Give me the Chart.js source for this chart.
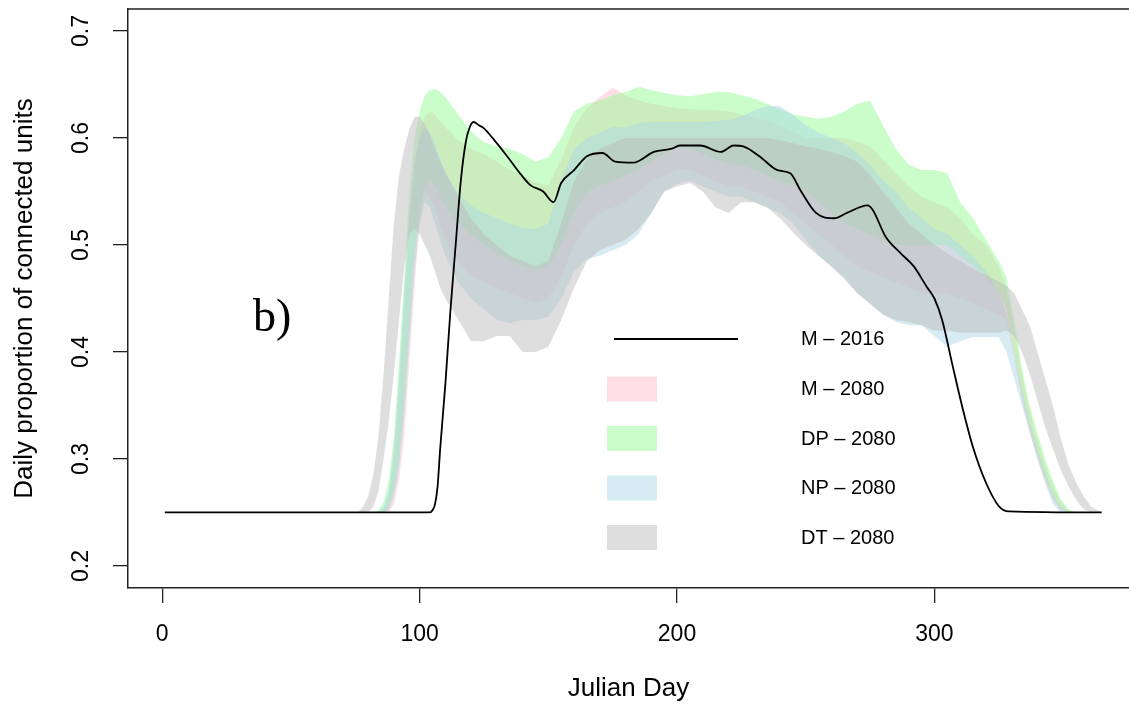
<!DOCTYPE html>
<html>
<head>
<meta charset="utf-8">
<script src="https://cdn.jsdelivr.net/npm/chart.js@4.4.1/dist/chart.umd.min.js"></script>
<style>
  html, body { margin: 0; padding: 0; background: #fff; }
  #wrap { width: 1129px; height: 704px; }
</style>
</head>
<body>
<div id="wrap"><canvas id="chart" width="1129" height="704"></canvas></div>
<script>
// Julian days shared by all the 2080 bands
const days = [1,
  76, 78, 80, 82, 84, 86, 88, 90, 92, 94, 96, 98, 100, 102, 104,
  106, 108,
  110, 115, 120, 125, 130, 135, 140, 145, 150, 155, 160, 165, 170, 175, 180, 185, 190, 195, 200, 205,
  210, 215, 220, 225, 230, 235, 240, 245, 250, 255, 260, 265, 270, 275, 280, 285, 290, 295, 300, 305,
  310, 315, 320, 325,
  328, 331, 334, 337, 340, 343, 346, 349, 352, 355, 358, 361,
  365];

// M - 2080 (pink)
const mUp = [0.25,
  0.25, 0.25, 0.25, 0.25, 0.25, 0.252, 0.265, 0.30, 0.36, 0.44, 0.52, 0.575, 0.605, 0.62, 0.625,
  0.622, 0.615,
  0.61, 0.598, 0.59, 0.585, 0.578, 0.57, 0.565, 0.558, 0.556, 0.58,
  0.61, 0.628, 0.638, 0.647, 0.64, 0.635, 0.632, 0.63, 0.628, 0.627,
  0.626, 0.626, 0.625, 0.622, 0.62, 0.616, 0.612, 0.606, 0.60, 0.60,
  0.60, 0.60, 0.597, 0.592, 0.58, 0.567, 0.555, 0.545, 0.54, 0.535,
  0.525, 0.51, 0.50, 0.48,
  0.46, 0.42, 0.38, 0.345, 0.318, 0.295, 0.275, 0.26, 0.252, 0.25, 0.25, 0.25,
  0.25];
const mLo = [0.25,
  0.25, 0.25, 0.25, 0.25, 0.25, 0.25, 0.25, 0.258, 0.28, 0.32, 0.39, 0.46, 0.52, 0.55, 0.545,
  0.535, 0.52,
  0.505, 0.485, 0.472, 0.465, 0.46, 0.455, 0.45, 0.446, 0.45, 0.47,
  0.50, 0.52, 0.53, 0.535, 0.54, 0.55, 0.56, 0.565, 0.57, 0.57,
  0.565, 0.56, 0.555, 0.555, 0.55, 0.545, 0.54, 0.53, 0.52, 0.51,
  0.50, 0.49, 0.48, 0.475, 0.47, 0.465, 0.46, 0.455, 0.455, 0.455,
  0.45, 0.445, 0.44, 0.435,
  0.43, 0.395, 0.355, 0.325, 0.30, 0.278, 0.262, 0.252, 0.25, 0.25, 0.25, 0.25,
  0.25];

// DP - 2080 (green)
const dpUp = [0.25,
  0.25, 0.25, 0.25, 0.25, 0.252, 0.26, 0.28, 0.32, 0.39, 0.47, 0.55, 0.60, 0.625, 0.64, 0.645,
  0.646, 0.643,
  0.638, 0.622, 0.606, 0.596, 0.592, 0.59, 0.585, 0.578, 0.582, 0.60,
  0.625, 0.632, 0.635, 0.64, 0.643, 0.648, 0.645, 0.642, 0.64, 0.639,
  0.641, 0.643, 0.643, 0.64, 0.637, 0.632, 0.627, 0.622, 0.62, 0.618,
  0.62, 0.625, 0.632, 0.635, 0.612, 0.59, 0.575, 0.57, 0.57, 0.567,
  0.54, 0.525, 0.505, 0.485,
  0.47, 0.43, 0.385, 0.35, 0.325, 0.30, 0.28, 0.263, 0.253, 0.25, 0.25, 0.25,
  0.25];
const dpLo = [0.25,
  0.25, 0.25, 0.25, 0.25, 0.25, 0.25, 0.255, 0.27, 0.30, 0.35, 0.42, 0.49, 0.53, 0.555, 0.56,
  0.555, 0.545,
  0.535, 0.52, 0.51, 0.50, 0.492, 0.486, 0.48, 0.476, 0.48, 0.50,
  0.53, 0.55, 0.555, 0.56, 0.565, 0.57, 0.578, 0.585, 0.59, 0.59,
  0.585, 0.58, 0.575, 0.575, 0.57, 0.565, 0.56, 0.555, 0.55, 0.54,
  0.53, 0.52, 0.515, 0.51, 0.505, 0.50, 0.50, 0.50, 0.50, 0.50,
  0.49, 0.48, 0.47, 0.455,
  0.44, 0.40, 0.36, 0.33, 0.305, 0.283, 0.265, 0.254, 0.25, 0.25, 0.25, 0.25,
  0.25];

// NP - 2080 (blue)
const npUp = [0.25,
  0.25, 0.25, 0.25, 0.25, 0.25, 0.255, 0.27, 0.31, 0.375, 0.455, 0.53, 0.575, 0.60, 0.61, 0.605,
  0.595, 0.58,
  0.568, 0.548, 0.537, 0.53, 0.525, 0.52, 0.516, 0.515, 0.52, 0.56,
  0.59, 0.60, 0.605, 0.61, 0.61, 0.614, 0.615, 0.615, 0.615, 0.615,
  0.615, 0.616, 0.617, 0.62, 0.626, 0.63, 0.63, 0.622, 0.612, 0.605,
  0.60, 0.595, 0.586, 0.575, 0.56, 0.55, 0.535, 0.525, 0.515, 0.51,
  0.50, 0.49, 0.475, 0.455,
  0.435, 0.40, 0.365, 0.335, 0.31, 0.288, 0.268, 0.255, 0.25, 0.25, 0.25, 0.25,
  0.25];
const npLo = [0.25,
  0.25, 0.25, 0.25, 0.25, 0.25, 0.25, 0.252, 0.265, 0.29, 0.34, 0.41, 0.475, 0.52, 0.54, 0.535,
  0.52, 0.505,
  0.49, 0.465, 0.45, 0.44, 0.43, 0.427, 0.43, 0.43, 0.433, 0.45,
  0.475, 0.487, 0.49, 0.495, 0.50, 0.51, 0.53, 0.55, 0.557, 0.56,
  0.555, 0.55, 0.545, 0.545, 0.54, 0.535, 0.53, 0.52, 0.505, 0.49,
  0.48, 0.47, 0.455, 0.445, 0.435, 0.428, 0.425, 0.425, 0.415, 0.405,
  0.41, 0.414, 0.414, 0.414,
  0.40, 0.375, 0.35, 0.325, 0.30, 0.278, 0.258, 0.25, 0.25, 0.25, 0.25, 0.25,
  0.25];

// DT - 2080 (grey)
const dtUp = [0.25,
  0.25, 0.255, 0.265, 0.285, 0.32, 0.38, 0.45, 0.52, 0.565, 0.59, 0.608, 0.62, 0.62, 0.613, 0.603,
  0.59, 0.578,
  0.568, 0.545, 0.525, 0.51, 0.50, 0.49, 0.485, 0.48, 0.485, 0.52,
  0.56, 0.58, 0.59, 0.595, 0.60, 0.60, 0.60, 0.60, 0.60, 0.60,
  0.60, 0.60, 0.60, 0.60, 0.60, 0.60, 0.598, 0.595, 0.592, 0.59,
  0.587, 0.583, 0.578, 0.565, 0.55, 0.535, 0.52, 0.51, 0.50, 0.492,
  0.485, 0.478, 0.472, 0.466,
  0.462, 0.455, 0.44, 0.425, 0.40, 0.375, 0.35, 0.32, 0.295, 0.278, 0.265, 0.255,
  0.25];
const dtLo = [0.25,
  0.25, 0.25, 0.25, 0.255, 0.27, 0.30, 0.335, 0.38, 0.43, 0.48, 0.51, 0.515, 0.51, 0.50, 0.49,
  0.475, 0.46,
  0.45, 0.43, 0.41, 0.41, 0.415, 0.415, 0.40, 0.40, 0.405, 0.43,
  0.46, 0.485, 0.495, 0.50, 0.505, 0.515, 0.53, 0.55, 0.555, 0.558,
  0.55, 0.535, 0.53, 0.54, 0.54, 0.535, 0.525, 0.512, 0.50, 0.49,
  0.48, 0.468, 0.455, 0.445, 0.435, 0.43, 0.428, 0.425, 0.42, 0.42,
  0.418, 0.418, 0.418, 0.418,
  0.42, 0.415, 0.40, 0.38, 0.355, 0.33, 0.31, 0.29, 0.275, 0.262, 0.253, 0.25,
  0.25];

// M - 2016 (black line)
const lineDays = [1, 104, 105, 106, 107, 108, 110, 112, 114, 116, 118, 120,
  121, 123, 125, 129, 134, 139, 143, 148, 152, 155, 160, 165,
  171, 176, 183, 191, 198, 201, 209, 217, 222, 226, 232, 239,
  244, 248, 254, 261, 266, 274, 276, 281, 287, 292, 297, 300,
  303, 307, 311, 315, 320, 325, 329, 365];
const lineVals = [0.25, 0.25, 0.252, 0.258, 0.275, 0.31, 0.37, 0.44, 0.50, 0.56, 0.597, 0.613,
  0.615, 0.612, 0.609, 0.598, 0.583, 0.567, 0.556, 0.55, 0.54, 0.558, 0.57, 0.583,
  0.586, 0.578, 0.577, 0.587, 0.59, 0.593, 0.593, 0.587, 0.593, 0.592, 0.583, 0.57,
  0.567, 0.551, 0.53, 0.525, 0.53, 0.537, 0.533, 0.508, 0.492, 0.48, 0.461, 0.45,
  0.43, 0.388, 0.347, 0.311, 0.278, 0.256, 0.251, 0.25];

const xTicks = [0, 100, 200, 300];
const yTicks = [0.2, 0.3, 0.4, 0.5, 0.6, 0.7];
const seriesNames = ['M \u2013 2016', 'M \u2013 2080', 'DP \u2013 2080', 'NP \u2013 2080', 'DT \u2013 2080'];
const bandColors = ['rgba(255,192,203,0.5)', 'rgba(152,251,152,0.5)', 'rgba(173,216,230,0.5)', 'rgba(190,190,190,0.5)'];

const sans = '"Liberation Sans", Arial, Helvetica, sans-serif';

function pts(xs, ys) {
  return xs.map((d, i) => ({ x: d, y: ys[i] }));
}

function band(label, up, lo, color) {
  return [
    { label: label, data: pts(days, up), fill: '+1', backgroundColor: color,
      borderWidth: 0, pointRadius: 0, tension: 0 },
    { label: label + ' low', data: pts(days, lo), fill: false,
      borderWidth: 0, pointRadius: 0, tension: 0 }
  ];
}

// R style extras: top of the box, "b)" tag and the legend inside the plot
const extras = {
  id: 'extras',
  afterDraw(chart) {
    const ctx = chart.ctx;
    const a = chart.chartArea;
    ctx.save();
    ctx.strokeStyle = '#222';
    ctx.lineWidth = 1.5;
    ctx.beginPath();
    ctx.moveTo(a.left, a.top);
    ctx.lineTo(a.right, a.top);
    ctx.stroke();

    ctx.fillStyle = '#000';
    ctx.font = '46px "Liberation Serif", "DejaVu Serif", serif';
    ctx.textBaseline = 'alphabetic';
    ctx.textAlign = 'left';
    ctx.fillText('b)', 253, 331);

    // legend
    ctx.strokeStyle = '#000';
    ctx.lineWidth = 1.8;
    ctx.beginPath();
    ctx.moveTo(614, 339);
    ctx.lineTo(738, 339);
    ctx.stroke();
    const rowY = [339, 389, 438.5, 488, 537.5];
    bandColors.forEach((c, i) => {
      ctx.fillStyle = c;
      ctx.fillRect(607, rowY[i + 1] - 12.5, 50, 25);
    });
    ctx.fillStyle = '#000';
    ctx.font = '20px ' + sans;
    ctx.textBaseline = 'middle';
    seriesNames.forEach((n, i) => ctx.fillText(n, 801, rowY[i] + 0.5));
    ctx.restore();
  }
};

const ctx = document.getElementById('chart').getContext('2d');
const chart = new Chart(ctx, {
  type: 'line',
  data: {
    datasets: [
      { label: seriesNames[0], data: pts(lineDays, lineVals), borderColor: '#000', borderWidth: 1.8,
        pointRadius: 0, fill: false, cubicInterpolationMode: 'monotone' },
      ...band(seriesNames[4], dtUp, dtLo, bandColors[3]),
      ...band(seriesNames[3], npUp, npLo, bandColors[2]),
      ...band(seriesNames[2], dpUp, dpLo, bandColors[1]),
      ...band(seriesNames[1], mUp, mLo, bandColors[0])
    ]
  },
  options: {
    responsive: false,
    devicePixelRatio: 1,
    animation: false,
    layout: { padding: { top: 9, left: 0, right: 0, bottom: 0 } },
    plugins: {
      legend: { display: false },
      tooltip: { enabled: false }
    },
    scales: {
      x: {
        type: 'linear',
        min: -13.3,
        max: 375.6,
        grid: { drawOnChartArea: false, drawTicks: true, tickLength: 15, color: '#222', lineWidth: 1.3 },
        border: { display: true, color: '#222', width: 1.5 },
        ticks: {
          color: '#000',
          padding: 18,
          maxRotation: 0,
          minRotation: 0,
          font: { family: sans, size: 23 },
          callback: (v) => String(v)
        },
        afterBuildTicks: (s) => { s.ticks = xTicks.map(v => ({ value: v })); },
        afterFit: (s) => { s.height = 116; s.paddingLeft = 0; s.paddingRight = 0; },
        title: {
          display: true,
          text: 'Julian Day',
          color: '#000',
          font: { family: sans, size: 26 },
          padding: { top: 0, bottom: 0 }
        }
      },
      y: {
        min: 0.1794,
        max: 0.7206,
        grid: { drawOnChartArea: false, drawTicks: true, tickLength: 15, color: '#222', lineWidth: 1.3 },
        border: { display: true, color: '#222', width: 1.5 },
        ticks: {
          color: '#000',
          padding: 15,
          minRotation: 90,
          maxRotation: 90,
          crossAlign: 'center',
          font: { family: sans, size: 23 },
          callback: (v) => v.toFixed(1)
        },
        afterBuildTicks: (s) => { s.ticks = yTicks.map(v => ({ value: v })); },
        afterFit: (s) => { s.width = 128; s.paddingTop = 0; s.paddingBottom = 0; },
        title: {
          display: true,
          text: 'Daily proportion of connected units',
          color: '#000',
          font: { family: sans, size: 26 },
          padding: { top: 9, bottom: 0 }
        }
      }
    }
  },
  plugins: [extras]
});
</script>
</body>
</html>
